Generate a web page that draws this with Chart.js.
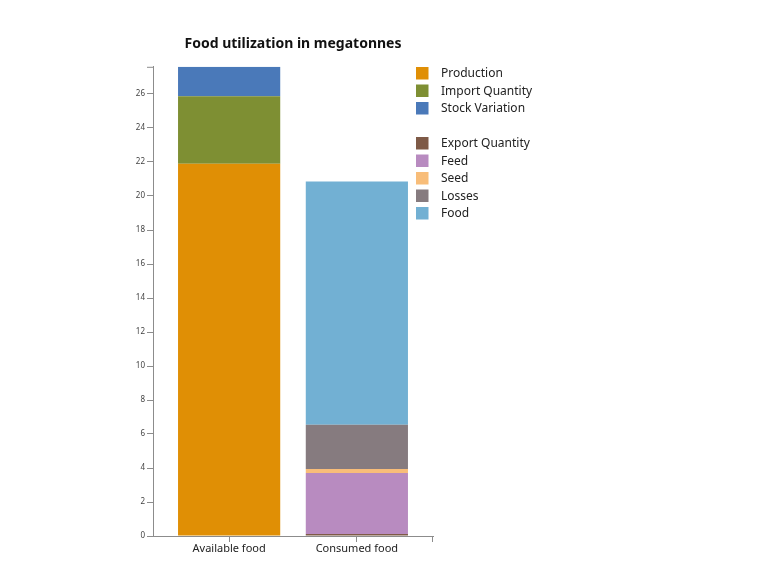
<!DOCTYPE html>
<html>
<head>
<meta charset="utf-8">
<script src="https://cdn.jsdelivr.net/npm/chart.js@4"></script>
<style>
  html, body { margin: 0; padding: 0; background: #fff; }
  #wrap { width: 775px; height: 580px; }
</style>
</head>
<body>
<div id="wrap"><canvas id="foodChart"></canvas></div>
<script>
// categories (x positions 0 and 1 on the index axis)
let categories = ["Available food", "Consumed food"];

// series, megatonnes
let seriesNames = ["Production", "Import Quantity", "Stock Variation",
                   "Export Quantity", "Feed", "Seed", "Losses", "Food"];
let seriesCategory = [0, 0, 0, 1, 1, 1, 1, 1];
let seriesValues = [21.9, 3.97, 1.73, 0.12, 3.58, 0.24, 2.6, 14.31];
let seriesColors = ["#e08f05", "#7e8f33", "#4a79b9", "#7e5a47",
                    "#b88bc0", "#f8bd79", "#867b7f", "#72b0d3"];

let yTicks = [0, 2, 4, 6, 8, 10, 12, 14, 16, 18, 20, 22, 24, 26];

let axisColor = "#8c8c8c";

let datasets = [];
for (let i = 0; i < seriesNames.length; i++) {
    datasets.push({
        label: seriesNames[i],
        data: [{x: seriesCategory[i], y: seriesValues[i]}],
        backgroundColor: seriesColors[i],
        borderWidth: 0,
        barPercentage: 0.8,
        categoryPercentage: 1.0
    });
}

// tallest stack sets the top of the y domain
let totals = [0, 0];
for (let i = 0; i < seriesValues.length; i++) {
    totals[seriesCategory[i]] += seriesValues[i];
}
let yMax = Math.max(...totals);

// index axis range leaves the band padding on both sides
let xMin = -0.596;
let xMax = 1.596;

// legend drawn beside the plot, with a gap after the first group
const sideLegend = {
    id: "sideLegend",
    afterDraw(chart) {
        const ctx = chart.ctx;
        ctx.save();
        ctx.font = "12px 'Noto Sans', sans-serif";
        ctx.textBaseline = "middle";
        let y = 67;
        for (let i = 0; i < seriesNames.length; i++) {
            if (i === 3) y += 17.5;
            ctx.fillStyle = seriesColors[i];
            ctx.fillRect(416, y, 12.5, 12.5);
            ctx.fillStyle = "#222";
            ctx.fillText(seriesNames[i], 441, y + 7);
            y += 17.5;
        }
        // outer ticks at the axis ends
        const a = chart.chartArea;
        ctx.strokeStyle = axisColor;
        ctx.lineWidth = 1;
        ctx.beginPath();
        ctx.moveTo(a.left - 6, a.top + 0.5);
        ctx.lineTo(a.left, a.top + 0.5);
        ctx.moveTo(a.right - 0.5, a.bottom);
        ctx.lineTo(a.right - 0.5, a.bottom + 6);
        ctx.stroke();
        ctx.restore();
    }
};

new Chart(document.getElementById("foodChart"), {
    type: "bar",
    data: { datasets: datasets },
    plugins: [sideLegend],
    options: {
        responsive: true,
        maintainAspectRatio: false,
        animation: false,
        layout: { padding: { left: 113, right: 342, top: 1, bottom: 14 } },
        plugins: {
            legend: { display: false },
            tooltip: { enabled: false },
            title: {
                display: true,
                fullSize: false,
                text: "Food utilization in megatonnes",
                color: "#111",
                font: { family: "'Noto Sans', sans-serif", size: 14, weight: "bold" },
                padding: { top: 35, bottom: 14 }
            }
        },
        scales: {
            x: {
                type: "linear",
                stacked: true,
                min: xMin,
                max: xMax,
                offset: false,
                afterFit: s => { s.height = 30; },
                afterBuildTicks: s => { s.ticks = [{value: 0}, {value: 1}]; },
                ticks: {
                    padding: 0,
                    color: "#222",
                    font: { family: "'Noto Sans', sans-serif", size: 11 },
                    callback: v => categories[v]
                },
                grid: { offset: false, drawOnChartArea: false, drawTicks: true, tickLength: 6, color: axisColor },
                border: { display: true, color: axisColor }
            },
            y: {
                stacked: true,
                min: 0,
                max: yMax,
                afterFit: s => { s.width = 40; },
                afterBuildTicks: s => { s.ticks = yTicks.map(v => ({value: v})); },
                ticks: {
                    padding: 2,
                    color: "#444",
                    font: { family: "'Noto Sans', sans-serif", size: 8 }
                },
                grid: { drawOnChartArea: false, drawTicks: true, tickLength: 6, color: axisColor },
                border: { display: true, color: axisColor }
            }
        }
    }
});
</script>
</body>
</html>
